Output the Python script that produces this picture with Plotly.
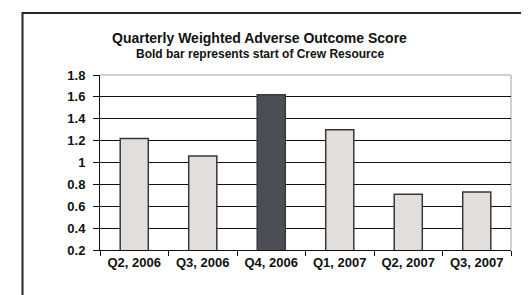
import plotly.graph_objects as go

categories = ["Q2, 2006", "Q3, 2006", "Q4, 2006", "Q1, 2007", "Q2, 2007", "Q3, 2007"]
scores = [1.22, 1.06, 1.62, 1.30, 0.71, 0.73]
bar_colors = ["#E1DEDB", "#E1DEDB", "#4B4E55", "#E1DEDB", "#E1DEDB", "#E1DEDB"]
title_text = "Quarterly Weighted Adverse Outcome Score"
subtitle_text = "Bold bar represents start of Crew Resource"

W, H = 529, 295
ml, mr, mt, mb = 92, 26, 67, 53
pw, ph = W - ml - mr, H - mt - mb

def px_x(p):
    return (p - ml) / pw

def px_y(p):
    return 1 + (mt - p) / ph

font_family = "Arial, Liberation Sans, sans-serif"

fig = go.Figure(go.Bar(
    x=categories, y=scores,
    marker=dict(color=bar_colors, line=dict(color="#3D3639", width=1.5)),
    width=0.41,
))

fig.update_layout(
    width=W, height=H,
    margin=dict(l=ml, r=mr, t=mt, b=mb),
    paper_bgcolor="white", plot_bgcolor="white",
    showlegend=False,
    font=dict(family=font_family, color="#111111"),
    xaxis=dict(
        showline=True, linecolor="#111111", linewidth=1,
        ticks="outside", ticklen=5, tickcolor="#111111", tickson="boundaries",
        tickfont=dict(size=13, family=font_family, color="#111111", weight="bold"),
        ticklabelstandoff=0,
        showgrid=False,
    ),
    yaxis=dict(
        range=[0.2, 1.8], dtick=0.2, tick0=0.2,
        showline=True, linecolor="#111111", linewidth=1,
        ticks="outside", ticklen=6, tickcolor="#111111",
        tickfont=dict(size=13, family=font_family, color="#111111", weight="bold"),
        ticklabelstandoff=5,
        showgrid=True, gridcolor="#111111", gridwidth=1,
        zeroline=False,
    ),
    shapes=[
        dict(type="line", xref="paper", yref="paper", x0=0, x1=1, y0=1, y1=1,
             line=dict(color="#C0C0C0", width=1.5), layer="below"),
        dict(type="line", xref="paper", yref="paper", x0=1, x1=1, y0=0, y1=1,
             line=dict(color="#C0C0C0", width=1.5), layer="below"),
        dict(type="rect", xref="paper", yref="paper",
             x0=px_x(14.5), x1=px_x(W + 20), y0=px_y(H + 20), y1=px_y(5),
             line=dict(color="#2B2326", width=2)),
    ],
    annotations=[
        dict(text="<b>" + title_text + "</b>", xref="paper", yref="paper",
             x=px_x(251), y=px_y(30.5), xanchor="center", yanchor="middle",
             showarrow=False, font=dict(size=14, family=font_family, color="#111111")),
        dict(text="<b>" + subtitle_text + "</b>", xref="paper", yref="paper",
             x=px_x(252), y=px_y(45.5), xanchor="center", yanchor="middle",
             showarrow=False, font=dict(size=12, family=font_family, color="#111111")),
    ],
)

fig.write_html("out.html")
